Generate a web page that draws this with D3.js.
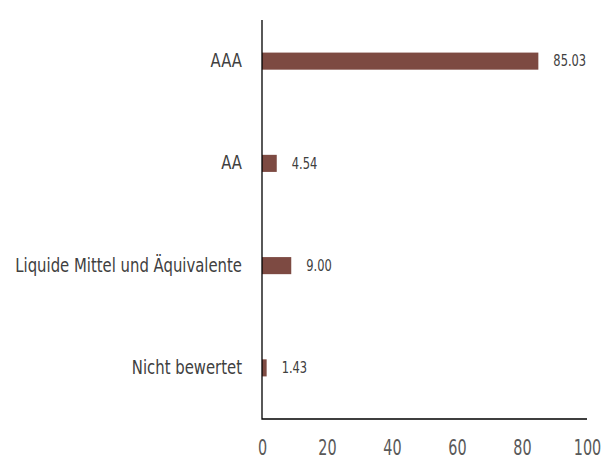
<!DOCTYPE html>
<html>
<head>
<meta charset="utf-8">
<script src="https://cdn.jsdelivr.net/npm/d3@7"></script>
<style>
  body { margin: 0; background: #fff; }
  svg text { font-family: "DejaVu Sans Condensed", "Liberation Sans Narrow", "Roboto Condensed", sans-serif; font-stretch: condensed; }
</style>
</head>
<body>
<div id="chart"></div>
<script>
const categories = ['AAA', 'AA', 'Liquide Mittel und Äquivalente', 'Nicht bewertet'];
const values = [85.03, 4.54, 9.00, 1.43];
const xTicks = [0, 20, 40, 60, 80, 100];

const svgWidth = 611,
  svgHeight = 459;
const plotLeft = 262, plotRight = 587, plotTop = 10, plotBottom = 419;

const xScale = d3.scaleLinear()
  .domain([0, 100])
  .range([plotLeft, plotRight]);

const yScale = d3.scaleBand()
  .domain(categories)
  .range([plotTop, plotBottom])
  .padding(0);

const barHeight = yScale.bandwidth() * 0.167;

const svg = d3.select('#chart')
  .append('svg')
  .attr('width', svgWidth)
  .attr('height', svgHeight);

svg.selectAll('rect.bar')
  .data(values)
  .enter()
  .append('rect')
  .attr('class', 'bar')
  .attr('x', xScale(0))
  .attr('y', (d, i) => yScale(categories[i]) + yScale.bandwidth() / 2 - barHeight / 2)
  .attr('width', d => xScale(d) - xScale(0))
  .attr('height', barHeight)
  .attr('fill', '#7d4a42');

// value labels (narrowed to mimic condensed face)
const valScale = 0.85;
svg.selectAll('text.val')
  .data(values)
  .enter()
  .append('text')
  .attr('class', 'val')
  .attr('transform', (d, i) => `translate(${xScale(d) + 15}, ${yScale(categories[i]) + yScale.bandwidth() / 2}) scale(${valScale},1)`)
  .attr('dy', '0.35em')
  .attr('font-size', 15)
  .attr('fill', '#404040')
  .text(d => d.toFixed(2));

// category axis
const catScale = 0.87;
const yAxis = d3.axisLeft(yScale).tickSize(0).tickPadding(20);
const gy = svg.append('g')
  .attr('transform', `translate(${plotLeft}, 0)`)
  .call(yAxis);
gy.select('.domain').remove();
gy.selectAll('text')
  .attr('x', -20 / catScale)
  .attr('transform', `scale(${catScale},1)`)
  .attr('font-size', 19)
  .attr('fill', '#404040');

// value axis
const tickScale = 0.78;
const xAxis = d3.axisBottom(xScale).tickValues(xTicks).tickSize(0).tickPadding(21);
const gx = svg.append('g')
  .attr('transform', `translate(0, ${plotBottom})`)
  .call(xAxis);
gx.select('.domain').remove();
gx.selectAll('text')
  .attr('transform', `scale(${tickScale},1)`)
  .attr('font-size', 20.5)
  .attr('fill', '#595959');

// axis lines
svg.append('path')
  .attr('d', `M${plotLeft},20V${plotBottom}H${plotRight}`)
  .attr('fill', 'none')
  .attr('stroke', '#000')
  .attr('stroke-width', 1.3);
</script>
</body>
</html>
